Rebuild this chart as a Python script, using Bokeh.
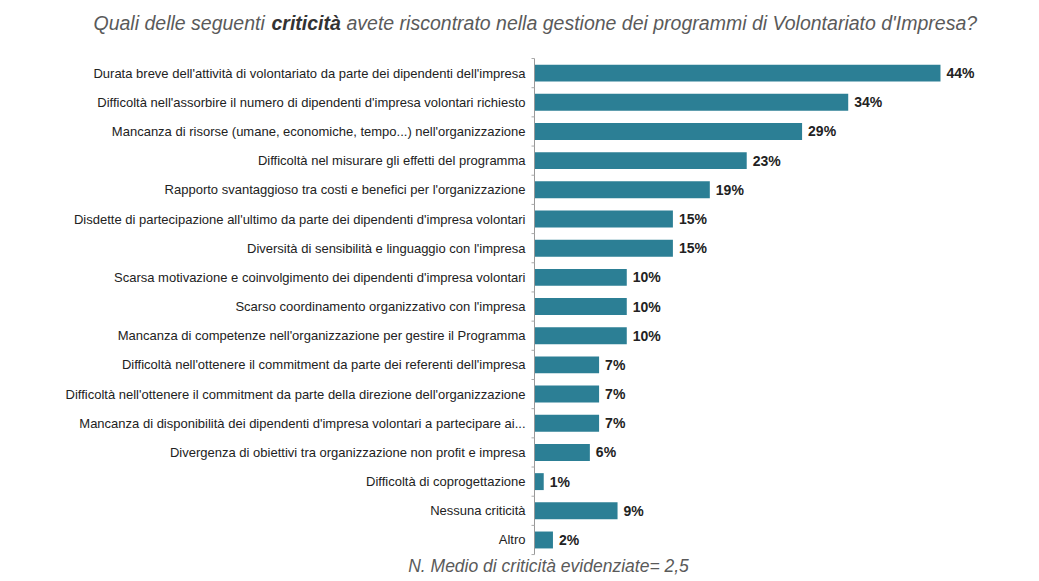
import math
from bokeh.plotting import figure
from bokeh.models import Range1d, Label, ColumnDataSource
from bokeh.core.properties import value
from bokeh.embed import file_html
from bokeh.resources import INLINE

categories = [
    "Durata breve dell'attività di volontariato da parte dei dipendenti dell'impresa",
    "Difficoltà nell'assorbire il numero di dipendenti d'impresa volontari richiesto",
    "Mancanza di risorse (umane, economiche, tempo...) nell'organizzazione",
    "Difficoltà nel misurare gli effetti del programma",
    "Rapporto svantaggioso tra costi e benefici per l'organizzazione",
    "Disdette di partecipazione all'ultimo da parte dei dipendenti d'impresa volontari",
    "Diversità di sensibilità e linguaggio con l'impresa",
    "Scarsa motivazione e coinvolgimento dei dipendenti d'impresa volontari",
    "Scarso coordinamento organizzativo con l'impresa",
    "Mancanza di competenze nell'organizzazione per gestire il Programma",
    "Difficoltà nell'ottenere il commitment da parte dei referenti dell'impresa",
    "Difficoltà nell'ottenere il commitment da parte della direzione dell'organizzazione",
    "Mancanza di disponibilità dei dipendenti d'impresa volontari a partecipare ai...",
    "Divergenza di obiettivi tra organizzazione non profit e impresa",
    "Difficoltà di coprogettazione",
    "Nessuna criticità",
    "Altro",
]
values = [44, 34, 29, 23, 19, 15, 15, 10, 10, 10, 7, 7, 7, 6, 1, 9, 2]
value_labels = [f"{v}%" for v in values]

title_parts = ["Quali delle seguenti", "criticità", "avete riscontrato nella gestione dei programmi di Volontariato d'Impresa?"]
footer = "N. Medio di criticità evidenziate= 2,5"

W, H = 1039, 581
n = len(categories)
pos = [n - 1 - i for i in range(n)]
boundaries = [k + 0.5 for k in range(-1, n)]

# layout geometry (pixels)
AX_PX = 534.0          # value 0
XSCALE = 9.227         # px per percentage point
ROW0_PX = 72.6         # centre of first row
ROW_PX = 29.18         # row pitch

x_start = -AX_PX / XSCALE
x_end = (W - AX_PX) / XSCALE
y_end = (n - 1) + ROW0_PX / ROW_PX
y_start = y_end - H / ROW_PX


def px2y(py):
    return y_end - py / ROW_PX


src = ColumnDataSource(dict(y=pos, v=values, lab=value_labels, cat=categories))

p = figure(width=W, height=H, output_backend="svg", toolbar_location=None,
           x_range=Range1d(x_start, x_end), y_range=Range1d(y_start, y_end),
           x_axis_location=None, y_axis_location=None,
           min_border=0, outline_line_color=None)
p.grid.visible = False
p.background_fill_color = "white"
p.border_fill_color = "white"

# bars
p.hbar(y="y", right="v", left=0, height=0.58, source=src,
       fill_color="#2c7f95", line_color=None)

# value labels
p.text(x="v", y="y", text="lab", source=src, x_offset=6,
       text_baseline="middle", text_align="left",
       text_font=value("Liberation Sans"), text_font_style="bold",
       text_font_size="14px", text_color="#222222")

# category axis: line, boundary ticks, labels
p.segment(x0=0, y0=-0.5, x1=0, y1=n - 0.5, line_color="#999999", line_width=1)
p.ray(x=[0] * len(boundaries), y=boundaries, length=3, length_units="screen",
      angle=math.pi, line_color="#aaaaaa", line_width=1)
p.text(x=0, y="y", text="cat", source=src, x_offset=-9,
       text_baseline="middle", text_align="right",
       text_font=value("Liberation Sans"), text_font_size="13px",
       text_color="#222222")

# title with bold keyword
for txt, px, st, col in zip(title_parts, [93, 271, 346],
                            ["italic", "bold italic", "italic"],
                            ["#5a5a5a", "#333333", "#5a5a5a"]):
    p.add_layout(Label(x=px, x_units="screen", y=px2y(22), text=txt,
                       text_font="Liberation Sans", text_font_style=st,
                       text_font_size="19.5px", text_color=col,
                       text_baseline="middle", text_align="left"))

# footer note
p.add_layout(Label(x=548, x_units="screen", y=px2y(565), text=footer,
                   text_font="Liberation Sans", text_font_style="italic",
                   text_font_size="17.5px", text_color="#5a5a5a",
                   text_baseline="middle", text_align="center"))

open("out.html", "w").write(file_html(p, INLINE))
